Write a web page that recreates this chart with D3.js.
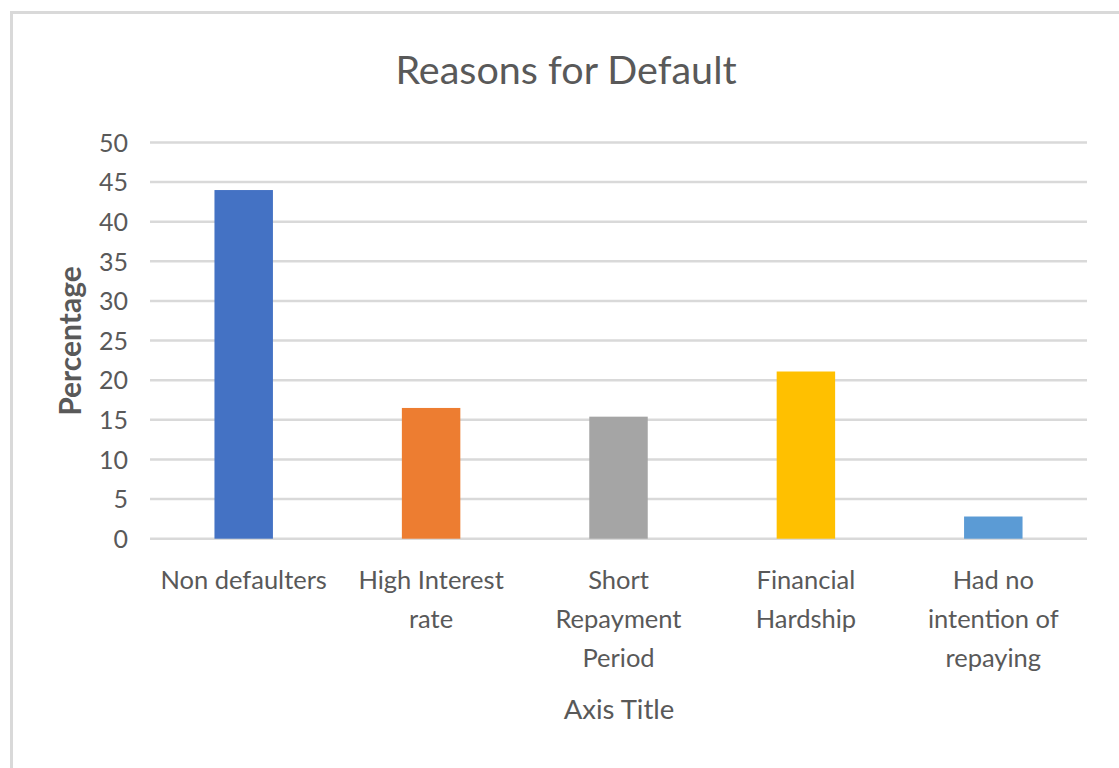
<!DOCTYPE html>
<html>
<head>
<meta charset="utf-8">
<script src="https://cdn.jsdelivr.net/npm/d3@7"></script>
<style>
  html, body { margin: 0; padding: 0; background: #fff; }
  svg { display: block; }
  text { font-family: Lato, "Open Sans", sans-serif; fill: #595959; }
</style>
</head>
<body>
<svg id="chart" width="1119" height="768"></svg>
<script>
// Reasons for default, share of respondents (%)
const categories = ["Non defaulters", "High Interest rate", "Short Repayment Period", "Financial Hardship", "Had no intention of repaying"];
const categoryLines = [
  ["Non defaulters"],
  ["High Interest", "rate"],
  ["Short", "Repayment", "Period"],
  ["Financial", "Hardship"],
  ["Had no", "intention of", "repaying"]
];
const percentages = [44.0, 16.5, 15.4, 21.1, 2.8];
const barColors = ["#4472C4", "#ED7D31", "#A5A5A5", "#FFC000", "#5B9BD5"];
const yTicks = [0, 5, 10, 15, 20, 25, 30, 35, 40, 45, 50];

const svg = d3.select("#chart");
const plot = { left: 150, right: 1087, top: 142.5, bottom: 538.7 };

// chart frame (top and left edges visible)
svg.append("path")
  .attr("d", "M11.5,768 V12.5 H1119")
  .attr("fill", "none")
  .attr("stroke", "#d9d9d9")
  .attr("stroke-width", 3);

const x = d3.scaleBand()
  .domain(categories)
  .range([plot.left, plot.right])
  .paddingInner(0.688)
  .paddingOuter(0.344);

const y = d3.scaleLinear()
  .domain([0, 50])
  .range([plot.bottom, plot.top]);

// horizontal gridlines
svg.append("g")
  .selectAll("line")
  .data(yTicks)
  .join("line")
  .attr("x1", plot.left)
  .attr("x2", plot.right)
  .attr("y1", d => y(d))
  .attr("y2", d => y(d))
  .attr("stroke", "#d9d9d9")
  .attr("stroke-width", 2.5);

// y tick labels
const yAxis = d3.axisLeft(y).tickValues(yTicks).tickSize(0).tickPadding(0);
const yg = svg.append("g")
  .attr("transform", `translate(128,0)`)
  .call(yAxis);
yg.select(".domain").remove();
yg.selectAll("text")
  .style("font-size", "25px")
  .attr("fill", "#595959")
  .attr("dy", "0.35em");

// bars
svg.append("g")
  .selectAll("rect")
  .data(percentages)
  .join("rect")
  .attr("x", (d, i) => x(categories[i]))
  .attr("width", x.bandwidth())
  .attr("y", d => y(d))
  .attr("height", d => y(0) - y(d))
  .attr("fill", (d, i) => barColors[i]);

// category labels
const catG = svg.append("g");
categoryLines.forEach((lines, i) => {
  const cx = x(categories[i]) + x.bandwidth() / 2;
  const t = catG.append("text")
    .attr("text-anchor", "middle")
    .style("font-size", "25.5px");
  lines.forEach((ln, j) => {
    t.append("tspan")
      .attr("x", cx)
      .attr("y", 589 + j * 39)
      .text(ln);
  });
});

// title
svg.append("text")
  .attr("x", 566)
  .attr("y", 84)
  .attr("text-anchor", "middle")
  .style("font-size", "39.5px")
  .text("Reasons for Default");

// x axis title
svg.append("text")
  .attr("x", 619)
  .attr("y", 719)
  .attr("text-anchor", "middle")
  .style("font-size", "27.5px")
  .text("Axis Title");

// y axis title
svg.append("text")
  .attr("transform", "translate(81,341) rotate(-90)")
  .attr("text-anchor", "middle")
  .style("font-size", "30px")
  .style("font-weight", "bold")
  .text("Percentage");
</script>
</body>
</html>
